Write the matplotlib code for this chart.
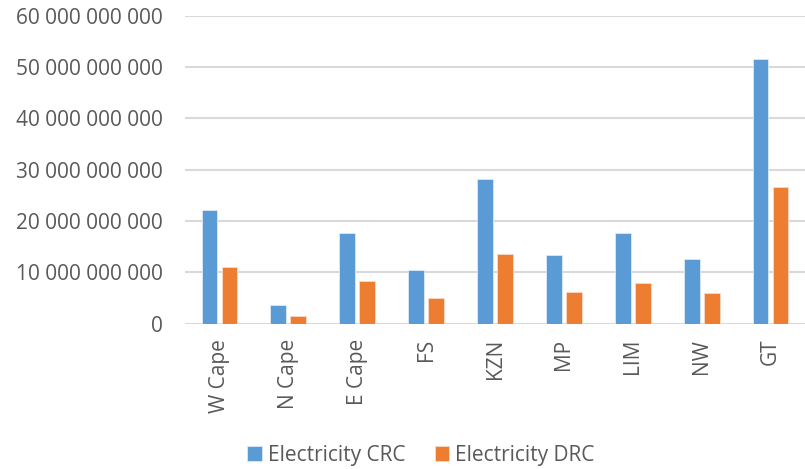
import numpy as np
import matplotlib.pyplot as plt
from matplotlib.ticker import FuncFormatter

provinces = ["W Cape", "N Cape", "E Cape", "FS", "KZN", "MP", "LIM", "NW", "GT"]
electricity_crc = [22.2e9, 3.6e9, 17.7e9, 10.4e9, 28.1e9, 13.3e9, 17.6e9, 12.6e9, 51.5e9]
electricity_drc = [11.1e9, 1.5e9, 8.3e9, 4.9e9, 13.6e9, 6.2e9, 7.95e9, 5.9e9, 26.6e9]

BLUE = "#5B9BD5"
ORANGE = "#ED7D31"
TEXT = "#595959"
GRID = "#D9D9D9"

plt.rcParams["font.family"] = ["Open Sans", "DejaVu Sans"]

fig = plt.figure(figsize=(8.05, 4.69), dpi=100)
ax = fig.add_axes([185 / 805, 1 - 323.5 / 469, 1 - 185 / 805, (323.5 - 15.7) / 469])

x = np.arange(len(provinces))
w = 0.23
ax.bar(x - 0.145, electricity_crc, w, color=BLUE, edgecolor="#DCE9F6", linewidth=0.6,
       label="Electricity CRC", zorder=3)
ax.bar(x + 0.145, electricity_drc, w, color=ORANGE, edgecolor="#FAD9C4", linewidth=0.6,
       label="Electricity DRC", zorder=3)

ax.set_xlim(-0.5, len(provinces) - 0.5)
ax.set_ylim(0, 60e9)
ax.set_yticks(np.arange(0, 60e9 + 1, 10e9))
ax.yaxis.set_major_formatter(FuncFormatter(lambda v, _: f"{int(v):,}".replace(",", " ")))
ax.grid(axis="y", color=GRID, linewidth=1.5, zorder=0)

ax.set_xticks(x)
ax.set_xticklabels(provinces, rotation=90, va="top", ha="center")

for s in ax.spines.values():
    s.set_visible(False)
ax.tick_params(axis="y", length=0, pad=16, labelsize=15, colors=TEXT)
ax.tick_params(axis="x", length=0, pad=11, labelsize=15, colors=TEXT)

fig.legend(loc="center", bbox_to_anchor=(421 / 805, 1 - 455 / 469), ncol=2,
           frameon=False, fontsize=15, labelcolor=TEXT, handlelength=0.7,
           handleheight=0.7, handletextpad=0.3, columnspacing=1.4)

fig.savefig("out.png", dpi=100)
